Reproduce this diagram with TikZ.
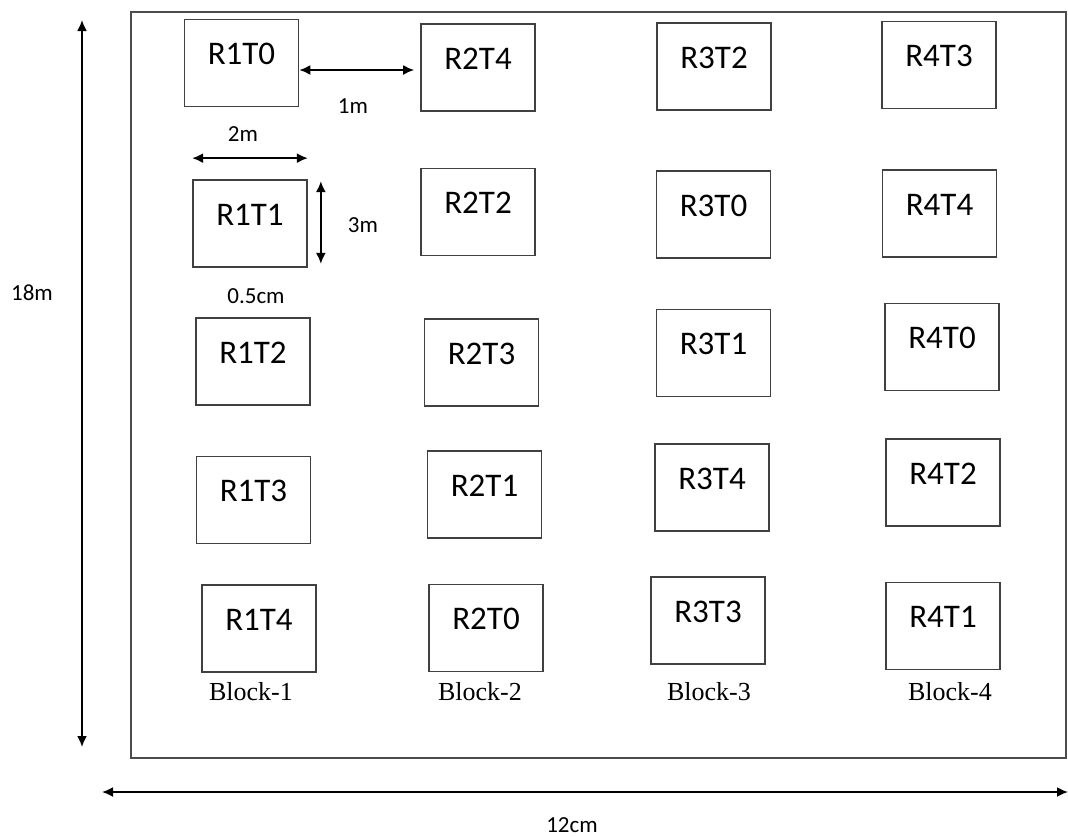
\documentclass[tikz,border=0pt]{standalone}
\usepackage{fontspec}
\setmainfont{Carlito}
\newfontfamily\blockfont{Liberation Serif}
\usetikzlibrary{arrows.meta}

\tikzset{
  plot/.style={draw=black!75, line width=1.7pt, minimum width=114pt, minimum height=87pt,
    inner sep=0pt, text height=25pt, text depth=22pt, font=\fontsize{33}{36}\selectfont},
  dimarrow/.style={line width=1.8pt, {Latex[length=11pt,width=10pt]}-{Latex[length=11pt,width=10pt]}},
  dimlabel/.style={font=\fontsize{23}{25}\selectfont},
  blocklabel/.style={font=\blockfont\fontsize{26}{28}\selectfont},
}

\begin{document}
\begin{tikzpicture}[x=1pt, y=-1pt]
        \useasboundingbox (0, 0) rectangle (1068, 836);
        % field border
        \draw[black!70, line width=1.8pt] (131, 12) rectangle (1066, 758);
        % block 1
        \node[plot] (r1t0) at (241.5, 63) {R1T0};
        \node[plot] (r1t1) at (250, 223.5) {R1T1};
        \node[plot] (r1t2) at (253, 361.5) {R1T2};
        \node[plot] (r1t3) at (253.5, 500) {R1T3};
        \node[plot] (r1t4) at (259, 628.5) {R1T4};
        % block 2
        \node[plot] (r2t4) at (478, 67.5) {R2T4};
        \node[plot] (r2t2) at (478, 212) {R2T2};
        \node[plot] (r2t3) at (481.5, 362.5) {R2T3};
        \node[plot] (r2t1) at (484.5, 494.5) {R2T1};
        \node[plot] (r2t0) at (486, 628) {R2T0};
        % block 3
        \node[plot] (r3t2) at (714, 66.5) {R3T2};
        \node[plot] (r3t0) at (713.5, 214.5) {R3T0};
        \node[plot] (r3t1) at (713.5, 353) {R3T1};
        \node[plot] (r3t4) at (712, 487.5) {R3T4};
        \node[plot] (r3t3) at (708, 620.5) {R3T3};
        % block 4
        \node[plot] (r4t3) at (939, 65) {R4T3};
        \node[plot] (r4t4) at (939.5, 213.5) {R4T4};
        \node[plot] (r4t0) at (942, 347) {R4T0};
        \node[plot] (r4t2) at (943, 482.5) {R4T2};
        \node[plot] (r4t1) at (943, 626) {R4T1};
        % block names
        \node[blocklabel] (blk1) at (251, 692) {Block-1};
        \node[blocklabel] (blk2) at (480, 692) {Block-2};
        \node[blocklabel] (blk3) at (709, 692) {Block-3};
        \node[blocklabel] (blk4) at (950, 692) {Block-4};
        % plot dimensions
        \draw[dimarrow, shorten >=6pt] ([yshift=-7pt]r1t0.east) -- ([yshift=-7pt]r1t0.east -| r2t4.west);
        \node[dimlabel] (gap) at (353, 106) {1m};
        \draw[dimarrow] ([yshift=21pt]r1t1.north west) -- ([yshift=21pt]r1t1.north east);
        \node[dimlabel] (wid) at (243, 134) {2m};
        \draw[dimarrow, shorten <=2pt, shorten >=4pt] ([xshift=13pt]r1t1.north east) -- ([xshift=13pt]r1t1.south east);
        \node[dimlabel] (hgt) at (363, 225) {3m};
        \node[dimlabel] (row) at (256, 296) {0.5cm};
        % field dimensions
        \coordinate (top) at (82, 20);
        \coordinate (bot) at (82, 747);
        \coordinate (lft) at (102, 792);
        \coordinate (rgt) at (1068, 792);
        \draw[dimarrow] (top) -- (bot);
        \node[dimlabel] (len) at (32, 293) {18m};
        \draw[dimarrow] (lft) -- (rgt);
        \node[dimlabel] (brd) at (572, 825) {12cm};
\end{tikzpicture}
\end{document}
